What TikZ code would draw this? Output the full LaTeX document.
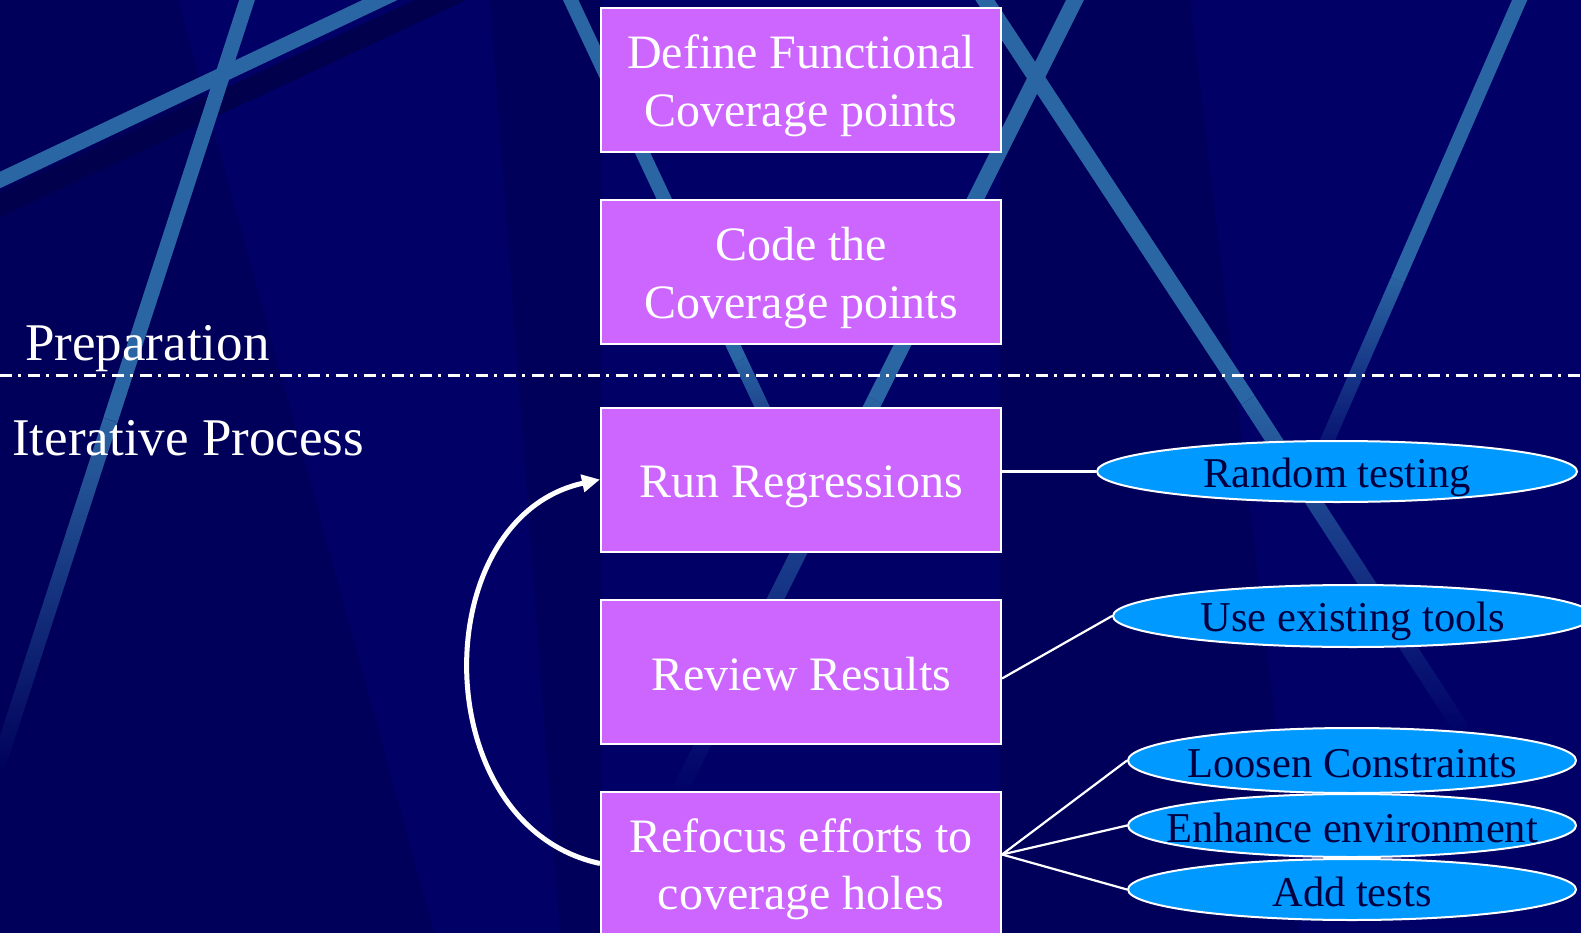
\documentclass[tikz,border=0pt]{standalone}
\usepackage{fontspec}
\setmainfont{Liberation Serif}
\usetikzlibrary{shapes.geometric,arrows.meta,fadings}

\definecolor{bgnavy}{HTML}{000066}
\definecolor{bgdark}{HTML}{00005A}
\definecolor{bgdeep}{HTML}{00004C}
\definecolor{streak}{HTML}{2B66A4}
\definecolor{boxviolet}{HTML}{CC66FF}
\definecolor{ovalblue}{HTML}{0099FF}
\definecolor{ovaltext}{HTML}{000040}

% fixed ascent/descent for every text line, so lines sit at the same height
\newcommand\linestrut{\rule[-0.17em]{0pt}{1.12em}}

% streaks of the backdrop die out towards the bottom
\tikzfading[name=fadedown, top color=transparent!0, bottom color=transparent!100]

\begin{document}
\begin{tikzpicture}[x=1pt,y=-1pt,
  stepbox/.style={draw=white, line width=2pt, fill=boxviolet, text=white,
    minimum width=400pt, minimum height=144pt, inner sep=0pt, align=center,
    font=\fontsize{48}{57.5}\selectfont},
  oval/.style={ellipse, draw=white, line width=2pt, fill=ovalblue, inner sep=0pt},
  ovallabel/.style={text=ovaltext, inner sep=0pt, font=\fontsize{42.5}{50}\selectfont},
  streakline/.style={draw=streak, line width=15pt},
  link/.style={draw=white, line width=2.2pt},
  divider/.style={draw=white, line width=3pt, dash pattern=on 12pt off 6pt on 3pt off 7pt},
  loopback/.style={draw=white, line width=5pt, -{Triangle[length=18pt,width=17pt]}},
  phase/.style={text=white, font=\fontsize{53}{60}\selectfont, inner sep=0pt, anchor=base west}]

\useasboundingbox (0,0) rectangle (1581,933);
\clip (0,0) rectangle (1581,933);

% backdrop
\fill[bgnavy] (0,0) rectangle (1581,933);
\fill[bgdark] (0,0) -- (178,0) -- (434,933) -- (0,933) -- cycle;
\fill[bgdark] (490,0) -- (601,0) -- (601,933) -- (560,933) -- cycle;
\fill[bgdark] (1000,0) -- (1190,0) -- (1300,933) -- (1000,933) -- cycle;

% light streaks
\draw[draw=bgdeep, line width=22pt] (-20,214) -- (460,-9);
\draw[streakline] (-20,189.5) -- (400,-9.5);
\draw[streakline] (250.3,-10) -- (110.5,420);
\draw[streakline, path fading=fadedown] (110.5,420) -- (-2,766);
\draw[streakline, line width=14pt] (566,-10) -- (740,360);
\draw[streakline, line width=14pt, path fading=fadedown] (740,360) -- (820,530);
\draw[streakline, line width=16pt] (1080,-10) -- (875,400);
\draw[streakline, line width=16pt, path fading=fadedown] (875,400) -- (680,790);
\draw[streakline, line width=16pt] (978.4,-10) -- (1248,400);
\draw[streakline, line width=16pt, path fading=fadedown] (1248,400) -- (1462,730);
\draw[streakline, line width=14pt] (1524,-10) -- (1397.5,280);
\draw[streakline, line width=14pt, path fading=fadedown] (1397.5,280) -- (1310,480);

% phases
\node[phase] (prep) at (25,360) {Preparation};
\node[phase] (iter) at (12,455) {Iterative Process};
\coordinate (dl) at (0,375);
\coordinate (dr) at (1581,375);
\draw[divider] (dl) -- (dr);

% process steps
\node[stepbox] (r1) at (801,80) {\linestrut Define Functional\\\linestrut Coverage points};
\node[stepbox] (r2) at (801,272) {\linestrut Code the\\\linestrut Coverage points};
\node[stepbox] (r3) at (801,479.5) {\linestrut Run Regressions};
\node[stepbox] (r4) at (801,671.5) {\linestrut Review Results};
\node[stepbox] (r5) at (801,863.5) {\linestrut Refocus efforts to\\\linestrut coverage holes};

% options
\node[oval, minimum width=480pt, minimum height=61pt,
  label={[ovallabel]center:\linestrut Random testing}] (o1) at (1337,471.5) {};
\node[oval, minimum width=480pt, minimum height=62pt,
  label={[ovallabel]center:\linestrut Use existing tools}] (o2) at (1353,616) {};
\node[oval, minimum width=448pt, minimum height=65pt,
  label={[ovallabel]center:\linestrut Loosen Constraints}] (o3) at (1352,760.5) {};
\node[oval, minimum width=448pt, minimum height=63pt,
  label={[ovallabel]center:\linestrut Enhance environment}] (o4) at (1352,825.5) {};
\node[oval, minimum width=448pt, minimum height=61pt,
  label={[ovallabel]center:\linestrut Add tests}] (o5) at (1352,889.5) {};

% connectors
\draw[link] (o1.west) -- (o1.west -| r3.east);
\draw[link] ([yshift=-7pt]r4.east) -- (o2.west);
\draw[link] ([yshift=9pt]r5.east) -- (o3.west);
\draw[link] ([yshift=9pt]r5.east) -- (o4.west);
\draw[link] ([yshift=9pt]r5.east) -- (o5.west);

% iteration loop
\draw[loopback] (r5.west) .. controls +(-175,-38) and +(-175,38) .. (r3.west);
\end{tikzpicture}
\end{document}
